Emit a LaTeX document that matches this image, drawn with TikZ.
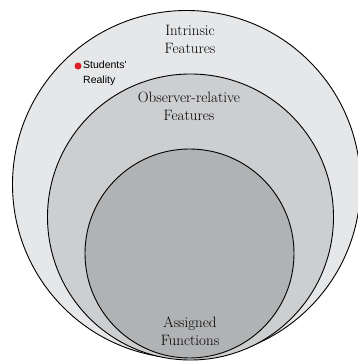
\documentclass[tikz,border=0pt]{standalone}
\usepackage{fontspec}
\newfontfamily\labelfont{Liberation Sans}
\usepackage{tikz}

\definecolor{outerfill}{RGB}{230,231,233}
\definecolor{midfill}{RGB}{205,206,208}
\definecolor{innerfill}{RGB}{177,178,180}
\definecolor{dotred}{RGB}{220,30,40}

\begin{document}
\begin{tikzpicture}[x=1pt,y=1pt,
  ring/.style={circle,draw=black,line width=0.9pt,inner sep=0pt},
  title/.style={align=center,font=\fontsize{15}{18}\selectfont}]
\useasboundingbox (0,0) rectangle (358,362);
\node[ring,fill=outerfill,minimum size=348pt] (I) at (186.5,177.5) {};
  \node[ring,fill=midfill,minimum size=286pt]   (O) at (190.5,145)   {};
  \node[ring,fill=innerfill,minimum size=209pt] (A) at (189.5,108.5) {};

  \node[title] (IT) at (190,323) {Intrinsic\\Features};
  \node[title] (OT) at (189,256) {Observer-relative\\Features};
  \node[title] (AT) at (190,31)  {Assigned\\Functions};

  \node[circle,fill=dotred,inner sep=0pt,minimum size=7pt] (S) at (78,296) {};
  \node[anchor=west,align=left,inner sep=0pt,
        font=\labelfont\fontsize{10.5}{15}\selectfont] (ST) at (83,288.5) {Students'\\Reality};
\end{tikzpicture}
\end{document}
